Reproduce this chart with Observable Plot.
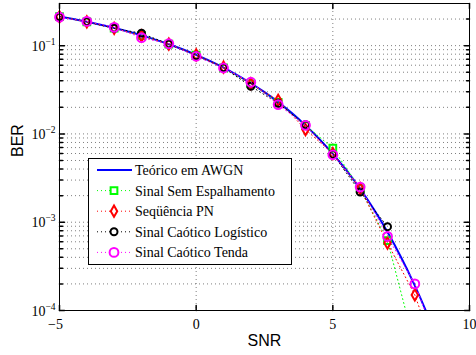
<!DOCTYPE html>
<html><head><meta charset="utf-8">
<script src="https://cdn.jsdelivr.net/npm/d3@7"></script>
<script src="https://cdn.jsdelivr.net/npm/@observablehq/plot@0.6"></script>
<style>
body{margin:0;background:#fff}
#chart{position:relative;width:476px;height:355px}
#chart svg{position:absolute;left:0;top:0}
</style>
</head><body><div id="chart"></div>
<script>
// Theoretical BPSK curve
const snrTheory = [-5,-4.5,-4,-3.5,-3,-2.5,-2,-1.5,-1,-0.5,0,0.5,1,1.5,2,2.5,3,3.5,4,4.5,5,5.5,6,6.5,7,7.5,8,8.5,9];
const berTheory = [0.2132,0.1998,0.1861,0.1723,0.1584,0.1445,0.1306,0.1170,0.1038,0.0909,0.0786,0.0671,0.0563,0.0464,0.0375,0.0297,0.0229,0.0172,0.0125,0.00879,0.00595,0.00386,0.00239,0.00140,0.000773,0.000399,0.000191,0.000084,0.0000336];

// Simulated series
const snrSim     = [-5,-4,-3,-2,-1,0,1,2,3,4,5,6,7,8,9];
const berSemEsp  = [0.213,0.186,0.158,0.130,0.104,0.078,0.056,0.037,0.0228,0.0125,0.0069,0.0024,0.00062,0.00004,null];
const berPN      = [0.212,0.186,0.157,0.129,0.104,0.0785,0.057,0.037,0.0240,0.0112,0.0060,0.0024,0.00058,0.00015,0.00002];
const berLogist  = [0.213,0.187,0.157,0.138,0.104,0.077,0.056,0.0347,0.0222,0.0127,0.0059,0.0022,0.00089,null,null];
const berTenda   = [0.210,0.188,0.161,0.123,0.105,0.0757,0.0558,0.0385,0.0215,0.0125,0.0058,0.0025,0.00069,0.00020,0.00003];

const seriesNames = ["Teórico em AWGN","Sinal Sem Espalhamento","Seqüência PN","Sinal Caótico Logístico","Sinal Caótico Tenda"];
const seriesColors = ["#0000ff","#00ff00","#ff0000","#000000","#ff00ff"];
const seriesSymbols = [null,"square","diamond","circle","circle"];
const seriesR = [0,3.8,3.4,3.5,4.4];

// Axis ticks
const xTicks = [-5,0,5,10];
const xTickLabels = ["−5","0","5","10"];
const yMajor = [1e-4,1e-3,1e-2,1e-1];
const yExpLabels = ["−4","−3","−2","−1"];
const yMinor = [];
for (const d of [1e-4,1e-3,1e-2,1e-1]) for (let k=2;k<=9;k++) if (d*k < 0.3) yMinor.push(+(d*k).toPrecision(3));
const xGrid = [0,5];

const theory = snrTheory.map((s,i)=>({snr:s, ber:berTheory[i]}));
const simSets = [berSemEsp,berPN,berLogist,berTenda].map(arr =>
  snrSim.map((s,i)=>({snr:s, ber:arr[i]})).filter(d=>d.ber!=null));

const serif = "Liberation Serif";
const sans = "Liberation Sans";
const tick = (dx,dy)=>({draw(ctx,l){ctx.moveTo(0,0);ctx.lineTo(dx*l,dy*l);}});
const gridStyle = {stroke:"#000", strokeOpacity:0.5, strokeDasharray:"1,3"};

const marks = [
  Plot.ruleY(yMinor, {y:d=>d, ...gridStyle}),
  Plot.ruleY(yMajor, {y:d=>d, ...gridStyle}),
  Plot.ruleX(xGrid, {x:d=>d, ...gridStyle}),
  // inner ticks
  Plot.vector(yMajor, {y:d=>d, frameAnchor:"left", anchor:"start", length:5, shape:tick(1,0), stroke:"black"}),
  Plot.vector(yMajor, {y:d=>d, frameAnchor:"right", anchor:"start", length:5, shape:tick(-1,0), stroke:"black"}),
  Plot.vector(yMinor, {y:d=>d, frameAnchor:"left", anchor:"start", length:3, shape:tick(1,0), stroke:"black"}),
  Plot.vector(yMinor, {y:d=>d, frameAnchor:"right", anchor:"start", length:3, shape:tick(-1,0), stroke:"black"}),
  Plot.vector(xTicks, {x:d=>d, frameAnchor:"bottom", anchor:"start", length:5, shape:tick(0,-1), stroke:"black"}),
  Plot.vector(xTicks, {x:d=>d, frameAnchor:"top", anchor:"start", length:5, shape:tick(0,1), stroke:"black"}),
  // tick labels
  Plot.text(xTicks.filter(d=>d<0), {x:d=>d, frameAnchor:"bottom", text:d=>xTickLabels[xTicks.indexOf(d)], lineAnchor:"bottom", dy:18, dx:-4, fontFamily:serif, fontSize:14, fill:"black"}),
  Plot.text(xTicks.filter(d=>d>=0), {x:d=>d, frameAnchor:"bottom", text:d=>xTickLabels[xTicks.indexOf(d)], lineAnchor:"bottom", dy:18, fontFamily:serif, fontSize:14, fill:"black"}),
  Plot.text(yMajor, {y:d=>d, frameAnchor:"left", text:()=> "10", textAnchor:"end", lineAnchor:"bottom", dx:-14, dy:5, fontFamily:serif, fontSize:14, fill:"black"}),
  Plot.text(yMajor, {y:d=>d, frameAnchor:"left", text:(d,i)=>yExpLabels[i], textAnchor:"end", lineAnchor:"bottom", dx:-4, dy:-1, fontFamily:serif, fontSize:9.5, fill:"black"}),
  Plot.text(["SNR"], {frameAnchor:"bottom", text:d=>d, lineAnchor:"middle", dy:30, fontFamily:sans, fontSize:16, fill:"black"}),
  Plot.text(["BER"], {frameAnchor:"left", text:d=>d, rotate:-90, lineAnchor:"middle", dx:-42, fontFamily:sans, fontSize:16, fill:"black"}),
  // data
  Plot.line(theory, {x:"snr", y:"ber", stroke:seriesColors[0], strokeWidth:2, curve:"monotone-x", clip:true}),
];
simSets.forEach((data,j)=>{
  const c = seriesColors[j+1];
  marks.push(Plot.line(data, {x:"snr", y:"ber", stroke:c, strokeWidth:1, strokeDasharray:"1,3", clip:true}));
  marks.push(Plot.dot(data.filter(d=>d.ber>=1e-4), {x:"snr", y:"ber", symbol:()=>seriesSymbols[j+1], r:seriesR[j+1], stroke:c, strokeWidth:2, fill:"none"}));
});
marks.push(Plot.frame({stroke:"black", strokeWidth:1}));

const chart = Plot.plot({
  width:476, height:355,
  marginLeft:59, marginRight:7, marginTop:3, marginBottom:45,
  x:{domain:[-5,10], axis:null},
  y:{type:"log", domain:[1e-4,0.3], axis:null},
  symbol:{type:"identity"},
  style:{background:"white", fontFamily:serif, fontSize:"14px", overflow:"visible"},
  marks
});
document.getElementById("chart").appendChild(chart);

// Legend inside the plot area
const lg = d3.select("#chart").append("svg").attr("width",476).attr("height",355).style("pointer-events","none");
lg.append("rect").attr("x",88.5).attr("y",158.5).attr("width",203).attr("height",106)
  .attr("fill","white").attr("stroke","black").attr("stroke-width",1);
const symMap = {square:d3.symbolSquare, diamond:d3.symbolDiamond, circle:d3.symbolCircle};
seriesNames.forEach((name,i)=>{
  const y = 170 + i*20.6;
  const g = lg.append("g");
  g.append("line").attr("x1",97).attr("x2",132).attr("y1",y).attr("y2",y)
    .attr("stroke",seriesColors[i]).attr("stroke-width", i===0?2:1)
    .attr("stroke-dasharray", i===0?null:"1,3");
  if (seriesSymbols[i]) {
    g.append("path").attr("d", d3.symbol(symMap[seriesSymbols[i]], Math.PI*seriesR[i]*seriesR[i])())
      .attr("transform",`translate(114,${y})`).attr("fill","white").attr("stroke",seriesColors[i]).attr("stroke-width",2);
  }
  g.append("text").attr("x",135).attr("y",y).attr("dy","0.35em").style("font-family",serif).style("font-size","14px")
    .attr("fill","black").text(name);
});
</script>
</body></html>
